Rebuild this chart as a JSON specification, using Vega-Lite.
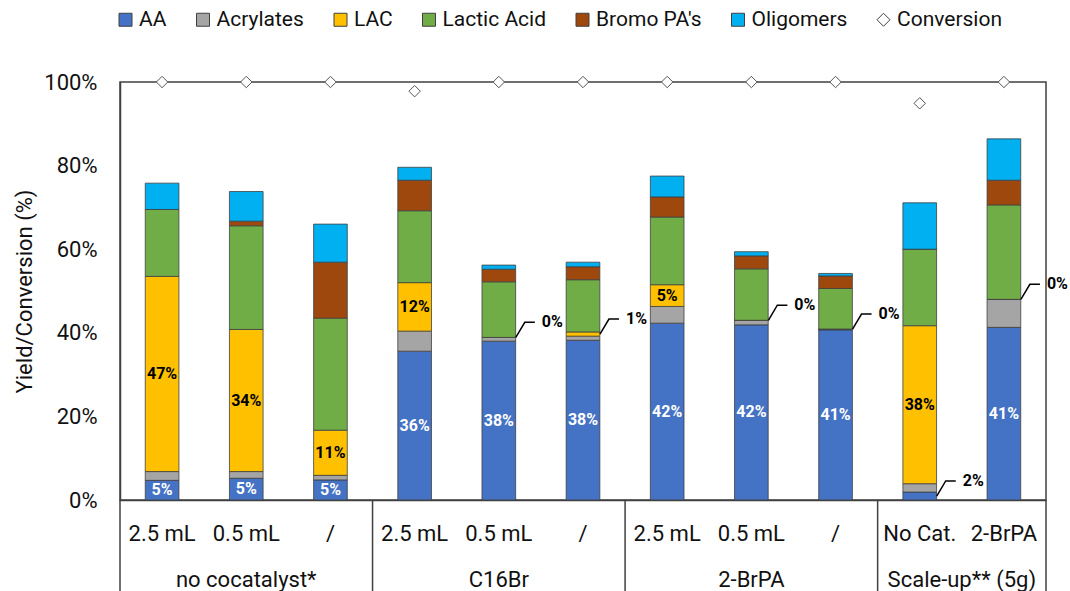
{
  "$schema": "https://vega.github.io/schema/vega-lite/v6.json",
  "width": 926,
  "height": 418,
  "autosize": {"type": "none"},
  "padding": {"left": 120, "top": 82, "right": 24, "bottom": 91},
  "background": "white",
  "config": {
    "font": "Roboto",
    "view": {"stroke": "#404040", "strokeWidth": 1.5},
    "legend": {
      "orient": "none", "legendX": -5, "legendY": -73, "direction": "horizontal", "columns": 7,
      "labelFontSize": 21, "labelColor": "#111", "symbolSize": 169, "labelOffset": 3,
      "columnPadding": 25.5, "symbolStrokeWidth": 1, "symbolStrokeColor": "#404040"
    }
  },
  "datasets": {
    "yields": [
      {"cat": "no cocatalyst*|2.5 mL", "series": "AA", "value": 0.047},
      {"cat": "no cocatalyst*|2.5 mL", "series": "Acrylates", "value": 0.021},
      {"cat": "no cocatalyst*|2.5 mL", "series": "LAC", "value": 0.467},
      {"cat": "no cocatalyst*|2.5 mL", "series": "Lactic Acid", "value": 0.160},
      {"cat": "no cocatalyst*|2.5 mL", "series": "Bromo PA's", "value": 0.0},
      {"cat": "no cocatalyst*|2.5 mL", "series": "Oligomers", "value": 0.063},
      {"cat": "no cocatalyst*|0.5 mL", "series": "AA", "value": 0.052},
      {"cat": "no cocatalyst*|0.5 mL", "series": "Acrylates", "value": 0.016},
      {"cat": "no cocatalyst*|0.5 mL", "series": "LAC", "value": 0.340},
      {"cat": "no cocatalyst*|0.5 mL", "series": "Lactic Acid", "value": 0.248},
      {"cat": "no cocatalyst*|0.5 mL", "series": "Bromo PA's", "value": 0.011},
      {"cat": "no cocatalyst*|0.5 mL", "series": "Oligomers", "value": 0.071},
      {"cat": "no cocatalyst*|/", "series": "AA", "value": 0.048},
      {"cat": "no cocatalyst*|/", "series": "Acrylates", "value": 0.011},
      {"cat": "no cocatalyst*|/", "series": "LAC", "value": 0.108},
      {"cat": "no cocatalyst*|/", "series": "Lactic Acid", "value": 0.268},
      {"cat": "no cocatalyst*|/", "series": "Bromo PA's", "value": 0.134},
      {"cat": "no cocatalyst*|/", "series": "Oligomers", "value": 0.091},
      {"cat": "C16Br|2.5 mL", "series": "AA", "value": 0.356},
      {"cat": "C16Br|2.5 mL", "series": "Acrylates", "value": 0.048},
      {"cat": "C16Br|2.5 mL", "series": "LAC", "value": 0.116},
      {"cat": "C16Br|2.5 mL", "series": "Lactic Acid", "value": 0.172},
      {"cat": "C16Br|2.5 mL", "series": "Bromo PA's", "value": 0.073},
      {"cat": "C16Br|2.5 mL", "series": "Oligomers", "value": 0.031},
      {"cat": "C16Br|0.5 mL", "series": "AA", "value": 0.380},
      {"cat": "C16Br|0.5 mL", "series": "Acrylates", "value": 0.009},
      {"cat": "C16Br|0.5 mL", "series": "LAC", "value": 0.0},
      {"cat": "C16Br|0.5 mL", "series": "Lactic Acid", "value": 0.133},
      {"cat": "C16Br|0.5 mL", "series": "Bromo PA's", "value": 0.030},
      {"cat": "C16Br|0.5 mL", "series": "Oligomers", "value": 0.010},
      {"cat": "C16Br|/", "series": "AA", "value": 0.382},
      {"cat": "C16Br|/", "series": "Acrylates", "value": 0.010},
      {"cat": "C16Br|/", "series": "LAC", "value": 0.010},
      {"cat": "C16Br|/", "series": "Lactic Acid", "value": 0.125},
      {"cat": "C16Br|/", "series": "Bromo PA's", "value": 0.031},
      {"cat": "C16Br|/", "series": "Oligomers", "value": 0.011},
      {"cat": "2-BrPA|2.5 mL", "series": "AA", "value": 0.423},
      {"cat": "2-BrPA|2.5 mL", "series": "Acrylates", "value": 0.040},
      {"cat": "2-BrPA|2.5 mL", "series": "LAC", "value": 0.052},
      {"cat": "2-BrPA|2.5 mL", "series": "Lactic Acid", "value": 0.162},
      {"cat": "2-BrPA|2.5 mL", "series": "Bromo PA's", "value": 0.048},
      {"cat": "2-BrPA|2.5 mL", "series": "Oligomers", "value": 0.050},
      {"cat": "2-BrPA|0.5 mL", "series": "AA", "value": 0.419},
      {"cat": "2-BrPA|0.5 mL", "series": "Acrylates", "value": 0.011},
      {"cat": "2-BrPA|0.5 mL", "series": "LAC", "value": 0.0},
      {"cat": "2-BrPA|0.5 mL", "series": "Lactic Acid", "value": 0.123},
      {"cat": "2-BrPA|0.5 mL", "series": "Bromo PA's", "value": 0.031},
      {"cat": "2-BrPA|0.5 mL", "series": "Oligomers", "value": 0.010},
      {"cat": "2-BrPA|/", "series": "AA", "value": 0.407},
      {"cat": "2-BrPA|/", "series": "Acrylates", "value": 0.002},
      {"cat": "2-BrPA|/", "series": "LAC", "value": 0.0},
      {"cat": "2-BrPA|/", "series": "Lactic Acid", "value": 0.097},
      {"cat": "2-BrPA|/", "series": "Bromo PA's", "value": 0.030},
      {"cat": "2-BrPA|/", "series": "Oligomers", "value": 0.006},
      {"cat": "Scale-up** (5g)|No Cat.", "series": "AA", "value": 0.019},
      {"cat": "Scale-up** (5g)|No Cat.", "series": "Acrylates", "value": 0.020},
      {"cat": "Scale-up** (5g)|No Cat.", "series": "LAC", "value": 0.378},
      {"cat": "Scale-up** (5g)|No Cat.", "series": "Lactic Acid", "value": 0.183},
      {"cat": "Scale-up** (5g)|No Cat.", "series": "Bromo PA's", "value": 0.0},
      {"cat": "Scale-up** (5g)|No Cat.", "series": "Oligomers", "value": 0.111},
      {"cat": "Scale-up** (5g)|2-BrPA", "series": "AA", "value": 0.413},
      {"cat": "Scale-up** (5g)|2-BrPA", "series": "Acrylates", "value": 0.067},
      {"cat": "Scale-up** (5g)|2-BrPA", "series": "LAC", "value": 0.0},
      {"cat": "Scale-up** (5g)|2-BrPA", "series": "Lactic Acid", "value": 0.226},
      {"cat": "Scale-up** (5g)|2-BrPA", "series": "Bromo PA's", "value": 0.059},
      {"cat": "Scale-up** (5g)|2-BrPA", "series": "Oligomers", "value": 0.099}
    ],
    "conv": [
      {"cat": "no cocatalyst*|2.5 mL", "value": 1.0},
      {"cat": "no cocatalyst*|0.5 mL", "value": 1.0},
      {"cat": "no cocatalyst*|/", "value": 1.0},
      {"cat": "C16Br|2.5 mL", "value": 0.978},
      {"cat": "C16Br|0.5 mL", "value": 1.0},
      {"cat": "C16Br|/", "value": 1.0},
      {"cat": "2-BrPA|2.5 mL", "value": 1.0},
      {"cat": "2-BrPA|0.5 mL", "value": 1.0},
      {"cat": "2-BrPA|/", "value": 1.0},
      {"cat": "Scale-up** (5g)|No Cat.", "value": 0.949},
      {"cat": "Scale-up** (5g)|2-BrPA", "value": 1.0}
    ]
  },
  "layer": [
    {
      "data": {"name": "yields"},
      "transform": [{"window": [{"op": "row_number", "as": "rank"}], "groupby": ["cat"]}],
      "mark": {"type": "bar", "width": {"band": 0.4}, "stroke": "#404040", "strokeWidth": 0.8},
      "encoding": {
        "x": {
          "field": "cat", "type": "nominal", "title": null,
          "scale": {
            "domain": ["no cocatalyst*|2.5 mL", "no cocatalyst*|0.5 mL", "no cocatalyst*|/", "C16Br|2.5 mL", "C16Br|0.5 mL", "C16Br|/", "2-BrPA|2.5 mL", "2-BrPA|0.5 mL", "2-BrPA|/", "Scale-up** (5g)|No Cat.", "Scale-up** (5g)|2-BrPA"],
            "paddingInner": 0, "paddingOuter": 0
          },
          "axis": {
            "labelExpr": "split(datum.label, '|')[1]",
            "labelFontSize": 22, "labelColor": "#111", "labelAngle": 0,
            "ticks": false, "tickSize": 0, "labelPadding": 40, "labelBaseline": "alphabetic",
            "domainColor": "#404040", "domainWidth": 1.5, "labelOverlap": false
          }
        },
        "y": {
          "field": "value", "type": "quantitative", "stack": "zero",
          "scale": {"domain": [0, 1]},
          "title": "Yield/Conversion (%)",
          "axis": {
            "values": [0, 0.2, 0.4, 0.6, 0.8, 1], "format": ".0%",
            "labelFontSize": 22, "labelColor": "#111", "ticks": false, "tickSize": 0,
            "labelPadding": 23, "grid": false, "domainColor": "#404040", "domainWidth": 1.5,
            "titleFontSize": 22, "titleFontWeight": "normal", "titleColor": "#111", "titlePadding": 7
          }
        },
        "order": {"field": "rank", "type": "quantitative", "sort": "ascending"},
        "color": {
          "field": "series", "type": "nominal",
          "sort": ["AA", "Acrylates", "LAC", "Lactic Acid", "Bromo PA's", "Oligomers", "Conversion"],
          "scale": {
            "domain": ["AA", "Acrylates", "LAC", "Lactic Acid", "Bromo PA's", "Oligomers", "Conversion"],
            "range": ["#4472C4", "#A5A5A5", "#FFC000", "#70AD47", "#9E480E", "#00B0F0", "#FFFFFF"]
          },
          "legend": {
            "title": null, "symbolType": "square",
            "encode": {"symbols": {"update": {
              "shape": {"signal": "datum.value === 'Conversion' ? 'diamond' : 'square'"},
              "stroke": {"value": "#404040"}, "strokeWidth": {"value": 1},
              "fill": {"scale": "color", "field": "value"}, "opacity": {"value": 1}
            }}}
          }
        }
      }
    },
    {
      "data": {"name": "yields"},
      "transform": [{"window": [{"op": "row_number", "as": "rank"}], "groupby": ["cat"]}],
      "mark": {"type": "text", "fontSize": 16, "fontWeight": "bold", "baseline": "middle", "align": "center"},
      "encoding": {
        "x": {"field": "cat", "type": "nominal"},
        "y": {"field": "value", "type": "quantitative", "stack": "zero", "bandPosition": 0.5},
        "order": {"field": "rank", "type": "quantitative", "sort": "ascending"},
        "fill": {"condition": {"test": "datum.series === 'AA'", "value": "white"}, "value": "black"},
        "text": {"condition": {"test": "(datum.series === 'AA' || datum.series === 'LAC') && datum.value >= 0.03", "field": "value", "type": "quantitative", "format": ".0%"}, "value": ""}
      }
    },
    {
      "data": {"name": "yields"},
      "transform": [{"window": [{"op": "row_number", "as": "rank"}], "groupby": ["cat"]}],
      "mark": {"type": "point", "shape": "M0,0L0.56,-0.94L1.19,-0.94", "size": 1024, "filled": false, "strokeWidth": 1.5, "xOffset": 17},
      "encoding": {
        "x": {"field": "cat", "type": "nominal"},
        "y": {"field": "value", "type": "quantitative", "stack": "zero", "bandPosition": 0.5},
        "order": {"field": "rank", "type": "quantitative", "sort": "ascending"},
        "stroke": {"value": "black"},
        "opacity": {"condition": {"test": "(datum.series === 'AA' || datum.series === 'LAC') && datum.value < 0.03", "value": 1}, "value": 0}
      }
    },
    {
      "data": {"name": "yields"},
      "transform": [{"window": [{"op": "row_number", "as": "rank"}], "groupby": ["cat"]}],
      "mark": {"type": "text", "fontSize": 16, "fontWeight": "bold", "baseline": "middle", "align": "left", "dx": 43, "dy": -15},
      "encoding": {
        "x": {"field": "cat", "type": "nominal"},
        "y": {"field": "value", "type": "quantitative", "stack": "zero", "bandPosition": 0.5},
        "order": {"field": "rank", "type": "quantitative", "sort": "ascending"},
        "fill": {"value": "black"},
        "text": {"condition": {"test": "(datum.series === 'AA' || datum.series === 'LAC') && datum.value < 0.03", "field": "value", "type": "quantitative", "format": ".0%"}, "value": ""}
      }
    },
    {
      "data": {"name": "conv"},
      "mark": {"type": "point", "shape": "diamond", "size": 130, "filled": true, "fill": "white", "stroke": "#555555", "strokeWidth": 1, "opacity": 1},
      "encoding": {
        "x": {"field": "cat", "type": "nominal"},
        "y": {"field": "value", "type": "quantitative"}
      }
    },
    {
      "data": {"values": [{"cat": "no cocatalyst*|2.5 mL"}, {"cat": "C16Br|2.5 mL"}, {"cat": "2-BrPA|2.5 mL"}, {"cat": "Scale-up** (5g)|No Cat."}]},
      "mark": {"type": "rule", "color": "#404040", "strokeWidth": 1.5, "y2Offset": 91},
      "encoding": {
        "x": {"field": "cat", "type": "nominal", "bandPosition": 0},
        "y": {"datum": 0},
        "y2": {"datum": 0}
      }
    },
    {
      "data": {"values": [{"cat": "Scale-up** (5g)|2-BrPA"}]},
      "mark": {"type": "rule", "color": "#404040", "strokeWidth": 1.5, "y2Offset": 91},
      "encoding": {
        "x": {"field": "cat", "type": "nominal", "bandPosition": 1},
        "y": {"datum": 0},
        "y2": {"datum": 0}
      }
    },
    {
      "data": {"values": [
        {"cat": "no cocatalyst*|0.5 mL", "group": "no cocatalyst*"},
        {"cat": "C16Br|0.5 mL", "group": "C16Br"},
        {"cat": "2-BrPA|0.5 mL", "group": "2-BrPA"}
      ]},
      "mark": {"type": "text", "fontSize": 22, "baseline": "alphabetic", "align": "center", "dy": 87, "color": "#111"},
      "encoding": {
        "x": {"field": "cat", "type": "nominal"},
        "y": {"datum": 0},
        "text": {"field": "group"}
      }
    },
    {
      "data": {"values": [{"cat": "Scale-up** (5g)|2-BrPA", "group": "Scale-up** (5g)"}]},
      "mark": {"type": "text", "fontSize": 22, "baseline": "alphabetic", "align": "center", "dy": 87, "color": "#111"},
      "encoding": {
        "x": {"field": "cat", "type": "nominal", "bandPosition": 0},
        "y": {"datum": 0},
        "text": {"field": "group"}
      }
    }
  ]
}
